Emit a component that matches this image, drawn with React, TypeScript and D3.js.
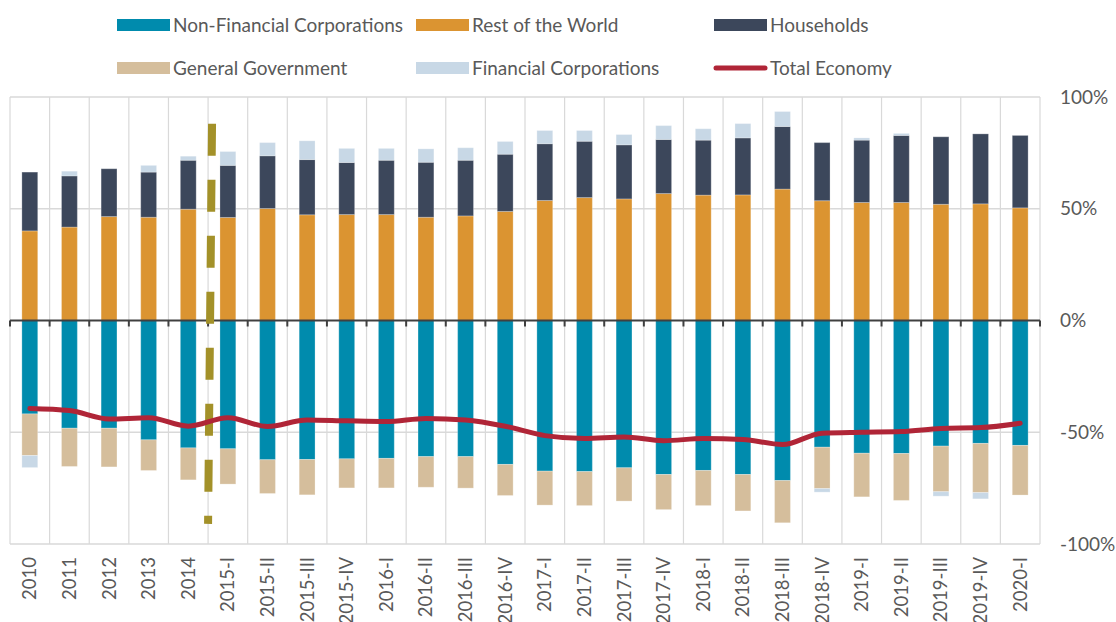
import React from 'react';
import * as d3 from 'd3';

const categories = ['2010', '2011', '2012', '2013', '2014', '2015-I', '2015-II', '2015-III', '2015-IV',
  '2016-I', '2016-II', '2016-III', '2016-IV', '2017-I', '2017-II', '2017-III', '2017-IV',
  '2018-I', '2018-II', '2018-III', '2018-IV', '2019-I', '2019-II', '2019-III', '2019-IV', '2020-I'];

const nonFinancial = [-41.8, -48.2, -48.2, -53.4, -57.0, -57.4, -62.3, -62.2, -61.9, -61.7, -60.9, -60.9, -64.4,
  -67.4, -67.6, -65.9, -68.9, -67.1, -68.9, -71.6, -56.7, -59.4, -59.5, -56.2, -55.0, -55.9];
const restOfWorld = [40.1, 41.8, 46.5, 46.2, 49.8, 46.1, 50.1, 47.3, 47.4, 47.4, 46.2, 46.8, 48.8,
  53.7, 55.0, 54.4, 56.8, 56.1, 56.2, 58.8, 53.6, 52.8, 52.8, 52.0, 52.2, 50.4];
const households = [26.3, 22.9, 21.4, 20.2, 21.9, 23.3, 23.6, 24.7, 23.3, 24.3, 24.6, 24.9, 25.6,
  25.4, 25.2, 24.2, 24.2, 24.6, 25.5, 28.0, 26.0, 27.9, 30.0, 30.2, 31.3, 32.4];
const generalGov = [-18.6, -17.1, -17.3, -13.7, -14.3, -15.8, -15.1, -15.8, -13.0, -13.2, -13.7, -14.1, -13.9,
  -15.2, -15.2, -14.9, -15.7, -15.7, -16.3, -18.9, -18.5, -19.5, -21.0, -20.4, -22.0, -22.2];
const financialCorps = [-5.4, 2.1, 0, 3.0, 1.8, 6.2, 5.9, 8.4, 6.3, 5.3, 6.0, 5.6, 5.7,
  5.9, 4.8, 4.6, 6.2, 5.1, 6.4, 6.7, -1.6, 1.0, 0.9, -2.0, -2.8, 0];
const totalEconomy = [-39.4, -40.3, -44.1, -43.5, -47.3, -43.5, -47.4, -44.5, -44.9, -45.2, -43.8, -44.5, -47.3,
  -51.5, -52.8, -52.1, -53.8, -52.8, -53.2, -55.5, -50.4, -50.0, -49.7, -48.3, -47.9, -46.0];

const yTicks = [100, 50, 0, -50, -100];
// break marker between annual and quarterly data (band position, value)
const breakMarker = [{ pos: 5.1, value: 88 }, { pos: 5.0, value: -91 }];

const seriesKeys = ['Non-Financial Corporations', 'Rest of the World', 'Households', 'General Government', 'Financial Corporations'];
const seriesValues = [nonFinancial, restOfWorld, households, generalGov, financialCorps];
const colors = ['#008BAD', '#DB9431', '#3C475B', '#D5BE9C', '#C8D8E6'];
const lineColor = '#B02537';

const FONT = 'Lato, "Open Sans", sans-serif';
const TEXT = '#595959';

export default function App() {
  const width = 1116, height = 622;
  const margin = { left: 10, right: 76, top: 97, bottom: 78 };

  const x = d3.scaleBand().domain(categories).range([margin.left, width - margin.right]).paddingInner(0).paddingOuter(0);
  const y = d3.scaleLinear().domain([-100, 100]).range([height - margin.bottom, margin.top]);
  const bw = x.bandwidth() * 0.4;
  const bandPos = d3.scaleLinear().domain([0, categories.length]).range([margin.left, width - margin.right]);

  const table = categories.map((c, i) => {
    const row: any = { cat: c };
    seriesKeys.forEach((k, j) => { row[k] = seriesValues[j][i]; });
    return row;
  });
  const stacked = d3.stack<any>().keys(seriesKeys).offset(d3.stackOffsetDiverging)(table);

  const line = d3.line<number>()
    .x((d, i) => (x(categories[i]) as number) + x.bandwidth() / 2)
    .y(d => y(d))
    .curve(d3.curveMonotoneX);

  const boundaries = d3.range(categories.length + 1).map(i => bandPos(i));

  const legendItems = [
    { label: 'Non-Financial Corporations', color: colors[0], x: 117, y: 25 },
    { label: 'Rest of the World', color: colors[1], x: 416, y: 25 },
    { label: 'Households', color: colors[2], x: 714, y: 25 },
    { label: 'General Government', color: colors[3], x: 117, y: 68 },
    { label: 'Financial Corporations', color: colors[4], x: 416, y: 68 },
    { label: 'Total Economy', color: lineColor, x: 714, y: 68, line: true },
  ];

  return (
    <svg width={width} height={height} style={{ position: 'absolute', left: 0, top: 0, background: '#fff' }} fontFamily={FONT}>
      {/* grid */}
      {yTicks.filter(t => t !== 0).map(t => (
        <line key={t} x1={margin.left} x2={width - margin.right} y1={y(t)} y2={y(t)} stroke="#D9D9D9" strokeWidth={1.5} />
      ))}
      {boundaries.map((bx, i) => (
        <line key={i} x1={bx} x2={bx} y1={y(100)} y2={y(-100)} stroke="#D9D9D9" strokeWidth={1.2} />
      ))}

      {/* bars */}
      {stacked.map((s, j) => (
        <g key={s.key} fill={colors[j]}>
          {s.map((d, i) => {
            const y0 = y(Math.max(d[0], d[1]));
            const y1 = y(Math.min(d[0], d[1]));
            if (y1 - y0 < 0.01) return null;
            return (
              <rect key={i} x={(x(categories[i]) as number) + (x.bandwidth() - bw) / 2} width={bw}
                y={y0} height={y1 - y0} stroke="#fff" strokeOpacity={0.25} strokeWidth={1} />
            );
          })}
        </g>
      ))}

      {/* zero axis */}
      <line x1={margin.left} x2={width - margin.right} y1={y(0)} y2={y(0)} stroke="#404040" strokeWidth={2} />
      {boundaries.map((bx, i) => (
        <line key={i} x1={bx} x2={bx} y1={y(0)} y2={y(0) + 6} stroke="#404040" strokeWidth={2} />
      ))}

      {/* break marker */}
      <line x1={bandPos(breakMarker[0].pos)} y1={y(breakMarker[0].value)}
        x2={bandPos(breakMarker[1].pos)} y2={y(breakMarker[1].value)}
        stroke="#A39129" strokeWidth={8} strokeDasharray="32 24" />

      {/* total economy line */}
      <path d={line(totalEconomy) as string} fill="none" stroke={lineColor} strokeWidth={5} strokeLinecap="round" strokeLinejoin="round" />

      {/* y axis labels on the right */}
      {yTicks.map(t => (
        <text key={t} x={width - margin.right + 20} y={y(t)} dy="0.35em" fontSize={19} fill={TEXT}>{`${t}%`}</text>
      ))}

      {/* x axis labels */}
      {categories.map(c => {
        const cx = (x(c) as number) + x.bandwidth() / 2;
        return (
          <text key={c} transform={`translate(${cx},${y(-100) + 13}) rotate(-90)`} textAnchor="end" dy="0.35em" fontSize={18.5} fill={TEXT}>{c}</text>
        );
      })}

      {/* legend */}
      {legendItems.map(item => (
        <g key={item.label}>
          {item.line
            ? <line x1={item.x + 2} x2={item.x + 51} y1={item.y} y2={item.y} stroke={item.color} strokeWidth={5} strokeLinecap="round" />
            : <rect x={item.x} y={item.y - 6} width={53} height={12} fill={item.color} />}
          <text x={item.x + 56} y={item.y} dy="0.35em" fontSize={19} fill={TEXT}>{item.label}</text>
        </g>
      ))}
    </svg>
  );
}
